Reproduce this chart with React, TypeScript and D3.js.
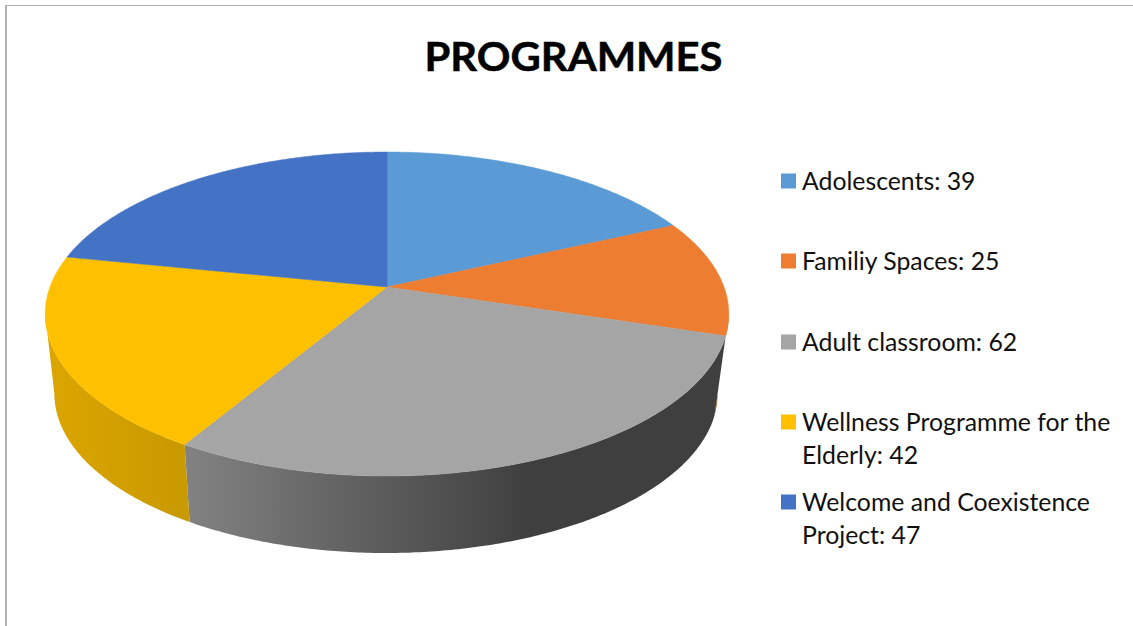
import React from "react";
import * as d3 from "d3";

const categories = ["Adolescents", "Familiy Spaces", "Adult classroom", "Wellness Programme for the Elderly", "Welcome and Coexistence Project"];
const values = [39, 25, 62, 42, 47];
const colors = ["#5b9bd5", "#ed7d31", "#a5a5a5", "#ffc000", "#4472c4"];
const sideStops = [
  ["#b85f22", "#b85f22"],
  ["#b85f22", "#b85f22"],
  ["#828282", "#3f3f3f"],
  ["#dca600", "#c89900"],
  ["#2f5597", "#2f5597"],
];
const legendLines = [
  ["Adolescents: 39"],
  ["Familiy Spaces: 25"],
  ["Adult classroom: 62"],
  ["Wellness Programme for the", "Elderly: 42"],
  ["Welcome and Coexistence", "Project: 47"],
];
const legendY = [181, 261, 342, 422, 502];

const W = 1133, H = 626;
const FONT = "Lato, 'Open Sans', sans-serif";
const K = -1 / 6;
type Plane = { cx: number; cy: number; R: number; S: number };
const topPlane: Plane = { cx: 387, cy: 287, R: 337, S: 157.5 };
const botPlane: Plane = { cx: 386, cy: 367, R: 327, S: 155 };

const project = (p: Plane, a: number): [number, number] => {
  const u = Math.sin(a), v = -Math.cos(a), w = 1 + K * v;
  return [p.cx + (p.R * u) / w, p.cy + (p.S * v) / w];
};
const sample = (a0: number, a1: number) => {
  const n = Math.max(2, Math.ceil(Math.abs(a1 - a0) / 0.01));
  return d3.range(n + 1).map((i) => a0 + ((a1 - a0) * i) / n);
};
const line = d3.line<[number, number]>();
const pie = d3.pie<number>().sort(null).startAngle(0).endAngle(2 * Math.PI);
const arcs = pie(values);

const VIS0 = (99.6 * Math.PI) / 180;
const VIS1 = (260.4 * Math.PI) / 180;

export default function App() {
  return (
    <svg width={W} height={H} viewBox={`0 0 ${W} ${H}`}
      style={{ position: "fixed", left: 0, top: 0, background: "#fff" }}>
      <defs>
        {arcs.map((d, i) => {
          const a0 = Math.max(d.startAngle, VIS0), a1 = Math.min(d.endAngle, VIS1);
          if (a1 <= a0) return null;
          const xr = project(topPlane, a0)[0], xl = project(topPlane, a1)[0];
          return (
            <linearGradient key={i} id={`side${i}`} gradientUnits="userSpaceOnUse"
              x1={xl} x2={i === 2 ? 530 : xr} y1={0} y2={0}>
              <stop offset="0" stopColor={sideStops[i][0]} />
              <stop offset="1" stopColor={sideStops[i][1]} />
            </linearGradient>
          );
        })}
      </defs>
      <line x1={6} y1={5} x2={6} y2={H} stroke="#b2b2b2" strokeWidth={2} />
      <line x1={5} y1={5.5} x2={W} y2={5.5} stroke="#b2b2b2" strokeWidth={1} />
      <text x={573.5} y={71} textAnchor="middle" fontFamily={FONT} fontWeight={700} fontSize={41} fill="#000"
        stroke="#000" strokeWidth={0.5} textLength={298} lengthAdjust="spacingAndGlyphs">PROGRAMMES</text>
      {arcs.map((d, i) => {
        const a0 = Math.max(d.startAngle, VIS0), a1 = Math.min(d.endAngle, VIS1);
        if (a1 <= a0) return null;
        const angles = sample(a0, a1);
        const pts = [...angles.map((a) => project(topPlane, a)), ...angles.slice().reverse().map((a) => project(botPlane, a))];
        return <path key={i} d={line(pts) + "Z"} fill={`url(#side${i})`} />;
      })}
      {arcs.map((d, i) => {
        const pts: [number, number][] = [[topPlane.cx, topPlane.cy], ...sample(d.startAngle, d.endAngle).map((a) => project(topPlane, a))];
        return <path key={i} d={line(pts) + "Z"} fill={colors[i]} stroke={colors[i]} strokeWidth={0.5} />;
      })}
      {categories.map((c, i) => (
        <g key={c}>
          <rect x={781} y={legendY[i] - 7.5} width={15} height={15} fill={colors[i]} />
          <text fontFamily={FONT} fontSize={24.8} fill="#111">
            {legendLines[i].map((t, j) => (
              <tspan key={j} x={802} y={legendY[i] + 8.5 + j * 33}>{t}</tspan>
            ))}
          </text>
        </g>
      ))}
    </svg>
  );
}
